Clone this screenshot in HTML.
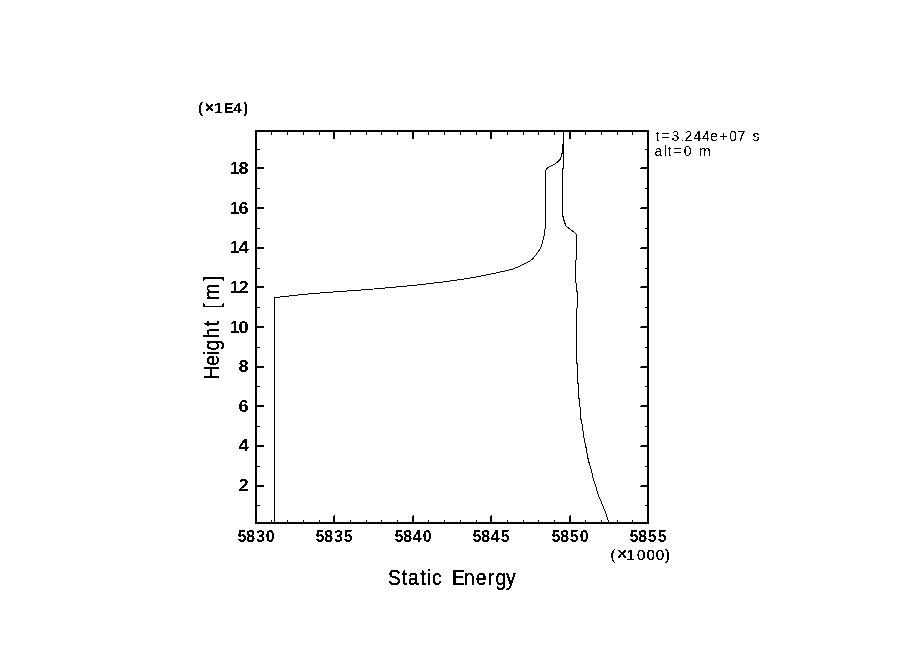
<!DOCTYPE html>
<html><head><meta charset="utf-8"><title>Static Energy</title>
<style>
html,body{margin:0;padding:0;background:#fff;}
body{width:904px;height:654px;overflow:hidden;}
svg{display:block;}
</style></head>
<body>
<svg width="904" height="654" viewBox="0 0 904 654">
<rect x="0" y="0" width="904" height="654" fill="#fff"/>
<g fill="#000" shape-rendering="crispEdges">
<rect x="255" y="130" width="394" height="2"/>
<rect x="255" y="522" width="394" height="2"/>
<rect x="255" y="130" width="2" height="394"/>
<rect x="647" y="130" width="2" height="394"/>
<rect x="271" y="520" width="1" height="2"/>
<rect x="271" y="132" width="1" height="3"/>
<rect x="287" y="520" width="1" height="2"/>
<rect x="287" y="132" width="1" height="3"/>
<rect x="303" y="520" width="1" height="2"/>
<rect x="303" y="132" width="1" height="3"/>
<rect x="319" y="520" width="1" height="2"/>
<rect x="319" y="132" width="1" height="3"/>
<rect x="333" y="516" width="1" height="6"/>
<rect x="334" y="515" width="1" height="7"/>
<rect x="333" y="132" width="2" height="7"/>
<rect x="350" y="520" width="1" height="2"/>
<rect x="350" y="132" width="1" height="3"/>
<rect x="366" y="520" width="1" height="2"/>
<rect x="366" y="132" width="1" height="3"/>
<rect x="381" y="520" width="1" height="2"/>
<rect x="381" y="132" width="1" height="3"/>
<rect x="397" y="520" width="1" height="2"/>
<rect x="397" y="132" width="1" height="3"/>
<rect x="412" y="516" width="1" height="6"/>
<rect x="413" y="515" width="1" height="7"/>
<rect x="412" y="132" width="2" height="7"/>
<rect x="428" y="520" width="1" height="2"/>
<rect x="428" y="132" width="1" height="3"/>
<rect x="444" y="520" width="1" height="2"/>
<rect x="444" y="132" width="1" height="3"/>
<rect x="460" y="520" width="1" height="2"/>
<rect x="460" y="132" width="1" height="3"/>
<rect x="476" y="520" width="1" height="2"/>
<rect x="476" y="132" width="1" height="3"/>
<rect x="490" y="516" width="1" height="6"/>
<rect x="491" y="515" width="1" height="7"/>
<rect x="490" y="132" width="2" height="7"/>
<rect x="507" y="520" width="1" height="2"/>
<rect x="507" y="132" width="1" height="3"/>
<rect x="523" y="520" width="1" height="2"/>
<rect x="523" y="132" width="1" height="3"/>
<rect x="538" y="520" width="1" height="2"/>
<rect x="538" y="132" width="1" height="3"/>
<rect x="554" y="520" width="1" height="2"/>
<rect x="554" y="132" width="1" height="3"/>
<rect x="569" y="516" width="1" height="6"/>
<rect x="570" y="515" width="1" height="7"/>
<rect x="569" y="132" width="2" height="7"/>
<rect x="585" y="520" width="1" height="2"/>
<rect x="585" y="132" width="1" height="3"/>
<rect x="601" y="520" width="1" height="2"/>
<rect x="601" y="132" width="1" height="3"/>
<rect x="617" y="520" width="1" height="2"/>
<rect x="617" y="132" width="1" height="3"/>
<rect x="632" y="520" width="1" height="2"/>
<rect x="632" y="132" width="1" height="3"/>
<rect x="257" y="505" width="3" height="1"/>
<rect x="645" y="505" width="2" height="1"/>
<rect x="257" y="485" width="7" height="2"/>
<rect x="641" y="485" width="6" height="1"/>
<rect x="640" y="486" width="7" height="1"/>
<rect x="257" y="466" width="3" height="1"/>
<rect x="645" y="466" width="2" height="1"/>
<rect x="257" y="445" width="7" height="2"/>
<rect x="641" y="445" width="6" height="1"/>
<rect x="640" y="446" width="7" height="1"/>
<rect x="257" y="426" width="3" height="1"/>
<rect x="645" y="426" width="2" height="1"/>
<rect x="257" y="405" width="7" height="2"/>
<rect x="641" y="405" width="6" height="1"/>
<rect x="640" y="406" width="7" height="1"/>
<rect x="257" y="386" width="3" height="1"/>
<rect x="645" y="386" width="2" height="1"/>
<rect x="257" y="366" width="7" height="2"/>
<rect x="641" y="366" width="6" height="1"/>
<rect x="640" y="367" width="7" height="1"/>
<rect x="257" y="347" width="3" height="1"/>
<rect x="645" y="347" width="2" height="1"/>
<rect x="257" y="326" width="7" height="2"/>
<rect x="641" y="326" width="6" height="1"/>
<rect x="640" y="327" width="7" height="1"/>
<rect x="257" y="307" width="3" height="1"/>
<rect x="645" y="307" width="2" height="1"/>
<rect x="257" y="286" width="7" height="2"/>
<rect x="641" y="286" width="6" height="1"/>
<rect x="640" y="287" width="7" height="1"/>
<rect x="257" y="268" width="3" height="1"/>
<rect x="645" y="268" width="2" height="1"/>
<rect x="257" y="247" width="7" height="2"/>
<rect x="641" y="247" width="6" height="1"/>
<rect x="640" y="248" width="7" height="1"/>
<rect x="257" y="228" width="3" height="1"/>
<rect x="645" y="228" width="2" height="1"/>
<rect x="257" y="207" width="7" height="2"/>
<rect x="641" y="207" width="6" height="1"/>
<rect x="640" y="208" width="7" height="1"/>
<rect x="257" y="188" width="3" height="1"/>
<rect x="645" y="188" width="2" height="1"/>
<rect x="257" y="167" width="7" height="2"/>
<rect x="641" y="167" width="6" height="1"/>
<rect x="640" y="168" width="7" height="1"/>
<rect x="257" y="149" width="3" height="1"/>
<rect x="645" y="149" width="2" height="1"/>
</g>
<g fill="none" stroke="#000" stroke-width="1" shape-rendering="crispEdges">
<polyline points="274.5,523 274.5,297.5 276.5,297.5 284,296.5 293.5,295.5 303,294.5 313.5,293.5 326,292.5 340,291.5 354.25,290.5 367.7,289.5 379.45,288.5 390.5,287.5 401.45,286.5 411.95,285.5 421.5,284.5 429.85,283.5 438.35,282.5 446.85,281.5 454,280.5 460.55,279.5 467,278.5 473,277.5 478.6,276.5 483.65,275.5 488.65,274.5 493.5,273.5 498.3,272.4 503.8,271.3 508.3,270.3 512.1,269.3 516,267.7 519.3,266.3 523.2,264.4 526.5,262.7 529.3,261.3 532,259.4 534.9,256.3 537.6,252.5 540,249 541.8,245.3 542.8,241.1 543.8,237 544.5,232.9 545,229 545.5,227.5 545.5,170.5 546.6,169.1 548.2,167.5 550.3,166.2 552.4,165.2 554.4,164.2 556.2,163.1 557.5,162.1 558.8,160.8 560.1,159.5 560.7,157.7 561.2,156.6 561.5,154 562.5,153 562.5,145 563.5,144 563.5,132"/>
<polyline points="563.5,132 563.5,168 562.5,169 562.5,216.5 563.5,216.5 563.5,220.5 564.5,220.5 564.5,223.5 565.5,223.5 565.5,225.5 567.3,227.1 569.3,228.6 571.2,230 573.2,231.5 575.1,233.2 576.5,234.5 576.5,259.5 575.5,260.5 575.5,282.5 576.5,283.5 576.5,291 577.5,292 577.5,307.5 576.5,308.5 576.5,363.5 577.5,364 577.5,383 578.5,384 578.5,398 579.5,399 579.5,406.5 580.5,407.5 580.5,418.4 581.5,420.5 582.5,426.6 583.5,434.6 584.5,440.5 585.5,444.5 586.5,450.4 587.5,456.3 588.5,460.5 589.5,464.5 590.3,466.7 591.7,471.5 593.1,478.1 595,483.8 596.9,490.5 598.8,496.2 601.2,501.8 603.6,507.5 605.9,513.7 608.3,521.3 608.6,522"/>
</g>
<defs><filter id="bin" filterUnits="userSpaceOnUse" x="0" y="0" width="904" height="654" color-interpolation-filters="sRGB"><feComponentTransfer><feFuncA type="discrete" tableValues="0 1"/></feComponentTransfer></filter></defs>
<g fill="#000" filter="url(#bin)">
<text x="207.42" y="491" font-size="16" text-anchor="start" font-weight="bold" font-family='"Liberation Sans", sans-serif' transform="scale(1.15,1)">2</text>
<text x="207.3" y="451" font-size="16" text-anchor="start" font-weight="bold" font-family='"Liberation Sans", sans-serif' transform="scale(1.15,1)">4</text>
<text x="207.37" y="412" font-size="16" text-anchor="start" font-weight="bold" font-family='"Liberation Sans", sans-serif' transform="scale(1.15,1)">6</text>
<text x="207.37" y="372" font-size="16" text-anchor="start" font-weight="bold" font-family='"Liberation Sans", sans-serif' transform="scale(1.15,1)">8</text>
<text x="199.62 207.39" y="333" font-size="16" text-anchor="start" font-weight="bold" font-family='"Liberation Sans", sans-serif' transform="scale(1.15,1)">10</text>
<text x="199.62 207.42" y="293" font-size="16" text-anchor="start" font-weight="bold" font-family='"Liberation Sans", sans-serif' transform="scale(1.15,1)">12</text>
<text x="199.62 207.3" y="253" font-size="16" text-anchor="start" font-weight="bold" font-family='"Liberation Sans", sans-serif' transform="scale(1.15,1)">14</text>
<text x="199.62 207.37" y="214" font-size="16" text-anchor="start" font-weight="bold" font-family='"Liberation Sans", sans-serif' transform="scale(1.15,1)">16</text>
<text x="199.62 207.37" y="174" font-size="16" text-anchor="start" font-weight="bold" font-family='"Liberation Sans", sans-serif' transform="scale(1.15,1)">18</text>
<text x="237.43 246.24 255.96 265.86" y="542" font-size="16" text-anchor="start" font-weight="bold" font-family='"Liberation Sans", sans-serif' >5830</text>
<text x="315.43 324.24 333.96 343.83" y="542" font-size="16" text-anchor="start" font-weight="bold" font-family='"Liberation Sans", sans-serif' >5835</text>
<text x="394.43 403.24 412.77 422.86" y="542" font-size="16" text-anchor="start" font-weight="bold" font-family='"Liberation Sans", sans-serif' >5840</text>
<text x="472.43 481.24 490.77 500.83" y="542" font-size="16" text-anchor="start" font-weight="bold" font-family='"Liberation Sans", sans-serif' >5845</text>
<text x="551.43 560.24 569.83 579.86" y="542" font-size="16" text-anchor="start" font-weight="bold" font-family='"Liberation Sans", sans-serif' >5850</text>
<text x="629.43 638.24 647.83 657.83" y="542" font-size="16" text-anchor="start" font-weight="bold" font-family='"Liberation Sans", sans-serif' >5855</text>
<text x="198.24 204.54 214.12 223.49 233.26 243.17" y="113" font-size="15" font-weight="bold" font-family='"Liberation Sans", sans-serif' >(<tspan font-size="17">×</tspan>1E4)</text>
<text x="610.38 616.74 626.42 636.93 646.48 655.83 664.92" y="560" font-size="15" font-weight="normal" font-family='"Liberation Sans", sans-serif' stroke="#000" stroke-width="0.3">(<tspan font-size="18">×</tspan>1000)</text>
<text x="431.22 446.37 453.29 466.93 474.51 480.12 490.87 502.35 515.51 528.65 541.94 550.43 562.18" y="585" font-size="21.5" text-anchor="start" font-weight="normal" font-family='"Liberation Sans", sans-serif' stroke="#000" stroke-width="0.3" transform="scale(0.9,1)">Static Energy</text>
<text x="-421.94 -406.46 -394.66 -389.35 -376.19 -362.57 -356.6 -342.95 -333.46 -312.08" y="0" font-size="21.5" text-anchor="start" font-weight="normal" font-family='"Liberation Sans", sans-serif' stroke="#000" stroke-width="0.25" transform="translate(219,0) rotate(-90) scale(0.9,1)">Height [m]</text>
<text x="655.8 661.77 671.6 680.36 684.56 693.6 701.95 710.17 719.32 729.16 737.4 745.19 752.56" y="141" font-size="14" text-anchor="start" font-weight="normal" font-family='"Liberation Sans", sans-serif' >t=3.244e+07 s</text>
<text x="654.51 663.69 667.6 673.47 683.76 691.54 699.12" y="156" font-size="14" text-anchor="start" font-weight="normal" font-family='"Liberation Sans", sans-serif' >alt=0 m</text>
</g>
</svg>
</body></html>
